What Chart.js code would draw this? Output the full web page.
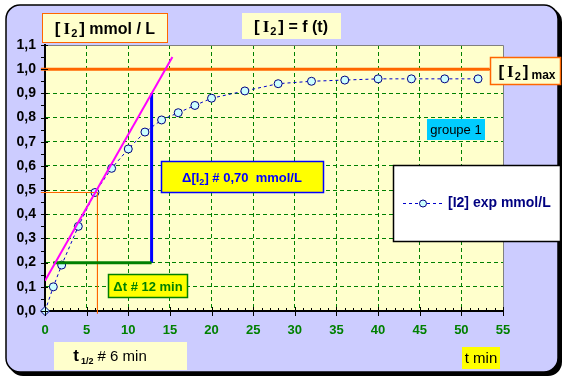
<!DOCTYPE html>
<html>
<head>
<meta charset="utf-8">
<script src="https://cdn.jsdelivr.net/npm/chart.js@4.4.1/dist/chart.umd.min.js"></script>
<style>
  html, body { margin: 0; padding: 0; background: #fff; }
  canvas { display: block; }
</style>
</head>
<body>
<canvas id="chart" width="569" height="381"></canvas>
<script>
// experimental points : [I2] (mmol/L) versus t (min)
const timeMin = [0, 1, 2, 4, 6, 8, 10, 12, 14, 16, 18, 20, 24, 28, 32, 36, 40, 44, 48, 52];
const iodine = [0, 0.10, 0.19, 0.35, 0.49, 0.59, 0.67, 0.74, 0.79, 0.82, 0.85, 0.88, 0.91, 0.94, 0.95, 0.955, 0.96, 0.96, 0.96, 0.96];

// construction lines
const tangentT = [0, 15.3];
const tangentC = [0.125, 1.05];
const deltaTT = [1.0, 12.8];
const deltaTC = [0.2, 0.2];
const deltaCT = [12.8, 12.8];
const deltaCC = [0.2, 0.9];
const halfT = [-0.5, 6.3, 6.3];
const halfC = [0.49, 0.49, -0.01];
const maxT = [-0.5, 53.4];
const maxC = [1.0, 1.0];

// axis ticks
const xTicks = [0, 5, 10, 15, 20, 25, 30, 35, 40, 45, 50, 55];
const yTicks = [0, 0.1, 0.2, 0.3, 0.4, 0.5, 0.6, 0.7, 0.8, 0.9, 1.0, 1.1];

const FONT = "'Liberation Sans', Arial, sans-serif";
const SERIF = "'Liberation Serif', 'Times New Roman', serif";

const toXY = (xs, ys) => xs.map((x, i) => ({ x: x, y: ys[i] }));

// draw a row of text pieces with different fonts
function drawRuns(ctx, runs, x, y, align) {
  let total = 0;
  runs.forEach(r => {
    ctx.font = r.font;
    r.w = ctx.measureText(r.t).width + (r.gap || 0);
    total += r.w;
  });
  let cx = align === 'center' ? x - total / 2 : x;
  ctx.textBaseline = 'alphabetic';
  ctx.textAlign = 'left';
  runs.forEach(r => {
    ctx.font = r.font;
    ctx.fillStyle = r.color || '#000';
    ctx.fillText(r.t, cx, y + (r.dy || 0));
    cx += r.w;
  });
}

function box(ctx, x, y, w, h, fill, stroke, lw) {
  ctx.fillStyle = fill;
  ctx.fillRect(x, y, w, h);
  if (stroke) {
    ctx.strokeStyle = stroke;
    ctx.lineWidth = lw || 1;
    ctx.strokeRect(x + 0.5, y + 0.5, w - 1, h - 1);
  }
}

const framePlugin = {
  id: 'frame',
  beforeDraw(chart) {
    const ctx = chart.ctx;
    const a = chart.chartArea;
    ctx.save();
    ctx.fillStyle = '#fff';
    ctx.fillRect(0, 0, chart.width, chart.height);
    // shadow
    ctx.fillStyle = '#000';
    ctx.beginPath();
    ctx.roundRect(9, 8, 553, 368, 14);
    ctx.fill();
    // frame
    ctx.fillStyle = '#CCCCFF';
    ctx.strokeStyle = '#000';
    ctx.lineWidth = 1.5;
    ctx.beginPath();
    ctx.roundRect(6, 5, 552, 367, 14);
    ctx.fill();
    ctx.stroke();
    // plot area
    ctx.fillStyle = '#FFFFCC';
    ctx.fillRect(a.left, a.top, a.right - a.left, a.bottom - a.top);
    ctx.restore();
  }
};

const decorPlugin = {
  id: 'decor',
  afterDatasetsDraw(chart) {
    const ctx = chart.ctx;
    const a = chart.chartArea;
    const xs = chart.scales.x;
    const ys = chart.scales.y;
    ctx.save();
    // grey plot border on top and right
    ctx.strokeStyle = '#808080';
    ctx.lineWidth = 1;
    ctx.beginPath();
    ctx.moveTo(a.left, a.top + 0.5);
    ctx.lineTo(a.right + 0.5, a.top + 0.5);
    ctx.lineTo(a.right + 0.5, a.bottom);
    ctx.stroke();
    // tick marks
    ctx.strokeStyle = '#000';
    ctx.lineWidth = 1;
    ctx.beginPath();
    for (let t = 0; t <= 55; t++) {
      const px = Math.round(xs.getPixelForValue(t)) + 0.5;
      if (t % 5 === 0) { ctx.moveTo(px, a.bottom - 4); ctx.lineTo(px, a.bottom + 5); }
      else { ctx.moveTo(px, a.bottom - 3); ctx.lineTo(px, a.bottom); }
    }
    for (let k = 0; k <= 22; k++) {
      const py = Math.round(ys.getPixelForValue(k * 0.05)) + 0.5;
      if (k % 2 === 0) { ctx.moveTo(a.left - 4, py); ctx.lineTo(a.left + 3, py); }
      else { ctx.moveTo(a.left - 4, py); ctx.lineTo(a.left, py); }
    }
    ctx.stroke();
    ctx.restore();
  },
  afterDraw(chart) {
    const ctx = chart.ctx;
    ctx.save();
    const b17 = 'bold 17px ' + FONT;
    const s17 = 'bold 17px ' + SERIF;
    const sub = 'bold 11px ' + FONT;

    // [I2] mmol / L
    box(ctx, 42, 13, 126, 30, '#FFFFCC', '#FF6600', 1);
    drawRuns(ctx, [
      { t: '[', font: b17, gap: 3 }, { t: 'I', font: s17, gap: 1 }, { t: '2', font: sub, dy: 3, gap: 2 },
      { t: ']', font: b17 }, { t: ' mmol / L', font: 'bold 16px ' + FONT }
    ], 105, 34, 'center');

    // [I2] = f (t)
    box(ctx, 242, 13, 99, 26, '#FFFFCC');
    drawRuns(ctx, [
      { t: '[', font: b17, gap: 3 }, { t: 'I', font: s17, gap: 1 }, { t: '2', font: sub, dy: 3, gap: 2 },
      { t: ']', font: b17 }, { t: ' = f (t)', font: 'bold 16px ' + FONT }
    ], 291, 32, 'center');

    // [I2] max
    box(ctx, 490, 57, 71, 28, '#FFFFCC', '#FF6600', 1.5);
    drawRuns(ctx, [
      { t: '[', font: b17, gap: 3 }, { t: 'I', font: s17, gap: 1 }, { t: '2', font: sub, dy: 3, gap: 2 },
      { t: ']', font: b17, gap: 3 }, { t: 'max', font: 'bold 12px ' + FONT, dy: 2 }
    ], 527, 77, 'center');

    // groupe 1
    box(ctx, 427, 119, 58, 21, '#00CCFF');
    ctx.font = '13px ' + FONT;
    ctx.fillStyle = '#000';
    ctx.textAlign = 'center';
    ctx.textBaseline = 'middle';
    ctx.fillText('groupe 1', 456, 130);

    // delta [I2]
    box(ctx, 161, 161, 163, 32, '#FFFF00', '#0000FF', 1.5);
    drawRuns(ctx, [
      { t: 'Δ[I', font: 'bold 13px ' + FONT, color: '#0000FF' },
      { t: '2', font: 'bold 9px ' + FONT, dy: 3, color: '#0000FF' },
      { t: '] # 0,70  mmol/L', font: 'bold 13px ' + FONT, color: '#0000FF' }
    ], 242, 182, 'center');

    // delta t
    box(ctx, 108, 274, 80, 24, '#FFFF00', '#008000', 1.5);
    drawRuns(ctx, [{ t: 'Δt # 12 min', font: 'bold 13px ' + FONT, color: '#008000' }], 148, 291, 'center');

    // t 1/2
    box(ctx, 54, 342, 133, 28, '#FFFFCC');
    drawRuns(ctx, [
      { t: 't', font: 'bold 17px ' + FONT, gap: 2 },
      { t: '1/2', font: 'bold 9px ' + FONT, dy: 3 },
      { t: ' # 6 min', font: '15px ' + FONT }
    ], 110, 361, 'center');

    // t min
    box(ctx, 462, 347, 38, 22, '#FFFF00');
    ctx.font = '15px ' + FONT;
    ctx.fillStyle = '#000';
    ctx.textAlign = 'center';
    ctx.textBaseline = 'middle';
    ctx.fillText('t min', 481, 359);

    // legend
    box(ctx, 393, 165, 168, 77, '#FFFFFF', '#000', 1.5);
    ctx.strokeStyle = '#0000CC';
    ctx.lineWidth = 1;
    ctx.setLineDash([3, 3]);
    ctx.beginPath();
    ctx.moveTo(403, 203.5);
    ctx.lineTo(443, 203.5);
    ctx.stroke();
    ctx.setLineDash([]);
    ctx.fillStyle = '#CCFFFF';
    ctx.strokeStyle = '#000080';
    ctx.beginPath();
    ctx.arc(423, 203.5, 3.5, 0, Math.PI * 2);
    ctx.fill();
    ctx.stroke();
    ctx.font = 'bold 14px ' + FONT;
    ctx.fillStyle = '#000080';
    ctx.textAlign = 'left';
    ctx.textBaseline = 'middle';
    ctx.fillText('[I2] exp mmol/L', 448, 203);
    ctx.restore();
  }
};

const gridColor = (maxV) => (c) => {
  const v = c.tick ? c.tick.value : 0;
  return (v > 1e-9 && v < maxV - 1e-9) ? '#008000' : 'rgba(0,0,0,0)';
};

new Chart(document.getElementById('chart'), {
  type: 'scatter',
  data: {
    datasets: [
      {
        label: '[I2] exp mmol/L',
        data: toXY(timeMin, iodine),
        showLine: true,
        borderColor: '#0000CC',
        borderWidth: 1,
        borderDash: [3, 3],
        pointStyle: timeMin.map((t, i) => i === 0 ? 'rectRot' : 'circle'),
        pointRadius: timeMin.map((t, i) => i === 0 ? 4.5 : 4),
        pointBackgroundColor: '#CCFFFF',
        pointBorderColor: '#000080',
        pointBorderWidth: 1,
        order: 1,
        clip: false
      },
      { data: toXY(tangentT, tangentC), showLine: true, borderColor: '#FF00FF', borderWidth: 2, pointRadius: 0, order: 0 },
      { data: toXY(deltaTT, deltaTC), showLine: true, borderColor: '#008000', borderWidth: 3, pointRadius: 0, order: 0 },
      { data: toXY(deltaCT, deltaCC), showLine: true, borderColor: '#0000FF', borderWidth: 3, pointRadius: 0, order: 0 },
      { data: toXY(halfT, halfC), showLine: true, borderColor: '#FF6600', borderWidth: 1, pointRadius: 0, order: 0, clip: false },
      { data: toXY(maxT, maxC), showLine: true, borderColor: '#FF6600', borderWidth: 3, pointRadius: 0, order: 0, clip: false }
    ]
  },
  options: {
    responsive: false,
    animation: false,
    devicePixelRatio: 1,
    layout: { padding: { left: 5, top: 45, right: 66, bottom: 20 } },
    plugins: { legend: { display: false }, tooltip: { enabled: false } },
    scales: {
      x: {
        type: 'linear',
        min: 0,
        max: 55,
        afterFit(scale) { scale.height = 50; },
        afterBuildTicks(scale) { scale.ticks = xTicks.map(v => ({ value: v })); },
        ticks: {
          color: '#008000',
          font: { family: FONT, size: 13, weight: 'bold' },
          padding: 12,
          maxRotation: 0,
          autoSkip: false
        },
        grid: { color: gridColor(55), lineWidth: 1, drawTicks: false },
        border: { color: '#000', width: 2, dash: [4, 3] }
      },
      y: {
        min: 0,
        max: 1.1,
        afterFit(scale) { scale.width = 40; },
        afterBuildTicks(scale) { scale.ticks = yTicks.map(v => ({ value: v })); },
        ticks: {
          color: '#000',
          font: { family: FONT, size: 14, weight: 'bold' },
          padding: 9,
          autoSkip: false,
          callback: v => v.toFixed(1).replace('.', ',')
        },
        grid: { color: gridColor(1.1), lineWidth: 1, drawTicks: false },
        border: { color: '#000', width: 2, dash: [4, 3] }
      }
    }
  },
  plugins: [framePlugin, decorPlugin]
});
</script>
</body>
</html>
